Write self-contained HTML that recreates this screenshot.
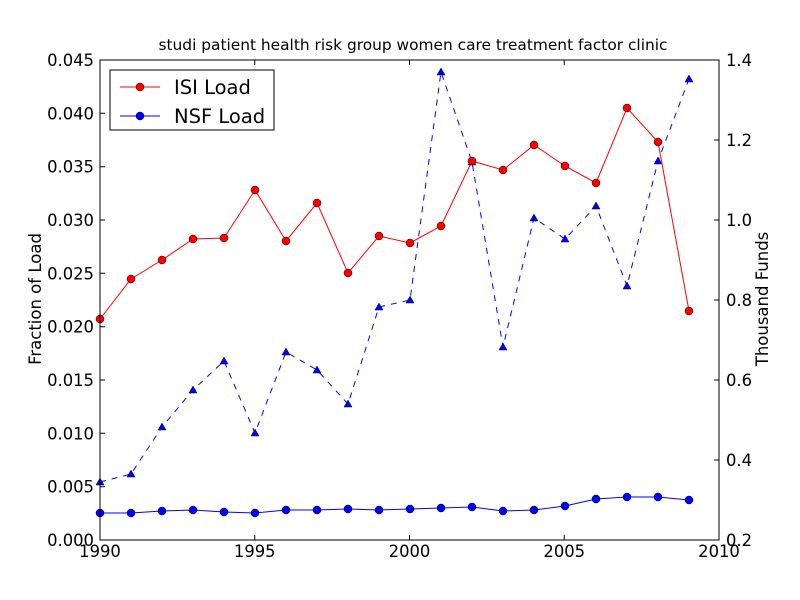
<!DOCTYPE html>
<html><head><style>body{margin:0;background:#fff}svg{display:block}text{font-family:"DejaVu Sans","Liberation Sans",sans-serif}</style></head><body>
<svg width="800" height="600" xmlns="http://www.w3.org/2000/svg">
<rect width="800" height="600" fill="#fff"/>
<text x="413" y="50" font-size="15.4" text-anchor="middle">studi patient health risk group women care treatment factor clinic</text>
<g stroke="#000" stroke-width="1">
<path d="M100 540h5M100 486.7h5M100 433.3h5M100 380h5M100 326.7h5M100 273.3h5M100 220h5M100 166.7h5M100 113.3h5M100 60h5"/>
<path d="M719 540h-5M719 460h-5M719 380h-5M719 300h-5M719 220h-5M719 140h-5M719 60h-5"/>
<path d="M100 540v-5M254.75 540v-5M409.5 540v-5M564.25 540v-5M719 540v-5M100 60v5M254.75 60v5M409.5 60v5M564.25 60v5M719 60v5"/>
</g>
<g font-size="16.4" text-anchor="end">
<text x="94" y="546">0.000</text><text x="94" y="492.7">0.005</text><text x="94" y="439.3">0.010</text><text x="94" y="386">0.015</text><text x="94" y="332.7">0.020</text><text x="94" y="279.3">0.025</text><text x="94" y="226">0.030</text><text x="94" y="172.7">0.035</text><text x="94" y="119.3">0.040</text><text x="94" y="66">0.045</text>
</g>
<g font-size="16.4">
<text x="726" y="546">0.2</text><text x="726" y="466">0.4</text><text x="726" y="386">0.6</text><text x="726" y="306">0.8</text><text x="726" y="226">1.0</text><text x="726" y="146">1.2</text><text x="726" y="66">1.4</text>
</g>
<g font-size="16.4" text-anchor="middle">
<text x="100" y="557">1990</text><text x="254.75" y="557">1995</text><text x="409.5" y="557">2000</text><text x="564.25" y="557">2005</text><text x="719" y="557">2010</text>
</g>
<text transform="translate(41 299) rotate(-90)" font-size="16.5" text-anchor="middle">Fraction of Load</text>
<text transform="translate(768 299) rotate(-90)" font-size="16.5" text-anchor="middle">Thousand Funds</text>
<polyline fill="none" stroke="#00f" stroke-dasharray="6,6" points="100,482 131,474 162,427 193,390 224,361 255,433 286,352 317,370 348,404 379,307 410,300 441,72 472,162 503,347 534,218 565,239 596,206 627,286 658,161 689,79"/>
<g fill="#00f" stroke="#000" stroke-width="0.5">
<path d="M100,478l4,7h-8zM131,470l4,7h-8zM162,423l4,7h-8zM193,386l4,7h-8zM224,357l4,7h-8zM255,429l4,7h-8zM286,348l4,7h-8zM317,366l4,7h-8zM348,400l4,7h-8zM379,303l4,7h-8zM410,296l4,7h-8zM441,68l4,7h-8zM472,158l4,7h-8zM503,343l4,7h-8zM534,214l4,7h-8zM565,235l4,7h-8zM596,202l4,7h-8zM627,282l4,7h-8zM658,157l4,7h-8zM689,75l4,7h-8z"/>
</g>
<polyline fill="none" stroke="#f00" points="100,319 131,279 162,260 193,239 224,238 255,190 286,241 317,203 348,273 379,236 410,243 441,226 472,161 503,170 534,145 565,166 596,183 627,108 658,142 689,311"/>
<g fill="#f00" stroke="#000" stroke-width="0.5">
<circle cx="100" cy="319" r="4"/><circle cx="131" cy="279" r="4"/><circle cx="162" cy="260" r="4"/><circle cx="193" cy="239" r="4"/><circle cx="224" cy="238" r="4"/><circle cx="255" cy="190" r="4"/><circle cx="286" cy="241" r="4"/><circle cx="317" cy="203" r="4"/><circle cx="348" cy="273" r="4"/><circle cx="379" cy="236" r="4"/><circle cx="410" cy="243" r="4"/><circle cx="441" cy="226" r="4"/><circle cx="472" cy="161" r="4"/><circle cx="503" cy="170" r="4"/><circle cx="534" cy="145" r="4"/><circle cx="565" cy="166" r="4"/><circle cx="596" cy="183" r="4"/><circle cx="627" cy="108" r="4"/><circle cx="658" cy="142" r="4"/><circle cx="689" cy="311" r="4"/>
</g>
<polyline fill="none" stroke="#00f" points="100,513 131,513 162,511 193,510 224,512 255,513 286,510 317,510 348,509 379,510 410,509 441,508 472,507 503,511 534,510 565,506 596,499 627,497 658,497 689,500"/>
<g fill="#00f" stroke="#000" stroke-width="0.5">
<circle cx="100" cy="513" r="4"/><circle cx="131" cy="513" r="4"/><circle cx="162" cy="511" r="4"/><circle cx="193" cy="510" r="4"/><circle cx="224" cy="512" r="4"/><circle cx="255" cy="513" r="4"/><circle cx="286" cy="510" r="4"/><circle cx="317" cy="510" r="4"/><circle cx="348" cy="509" r="4"/><circle cx="379" cy="510" r="4"/><circle cx="410" cy="509" r="4"/><circle cx="441" cy="508" r="4"/><circle cx="472" cy="507" r="4"/><circle cx="503" cy="511" r="4"/><circle cx="534" cy="510" r="4"/><circle cx="565" cy="506" r="4"/><circle cx="596" cy="499" r="4"/><circle cx="627" cy="497" r="4"/><circle cx="658" cy="497" r="4"/><circle cx="689" cy="500" r="4"/>
</g>
<rect x="100" y="60" width="619" height="480" fill="none" stroke="#000"/>
<rect x="110" y="70" width="164" height="60" fill="#fff" stroke="#000"/>
<path d="M120 87h40" stroke="#f00"/><circle cx="140" cy="87" r="4" fill="#f00" stroke="#000" stroke-width="0.5"/>
<text x="174" y="94" font-size="19.5">ISI Load</text>
<path d="M120 116h40" stroke="#00f"/><circle cx="140" cy="116" r="4" fill="#00f" stroke="#000" stroke-width="0.5"/>
<text x="174" y="123" font-size="19.5">NSF Load</text>
</svg>
</body></html>
